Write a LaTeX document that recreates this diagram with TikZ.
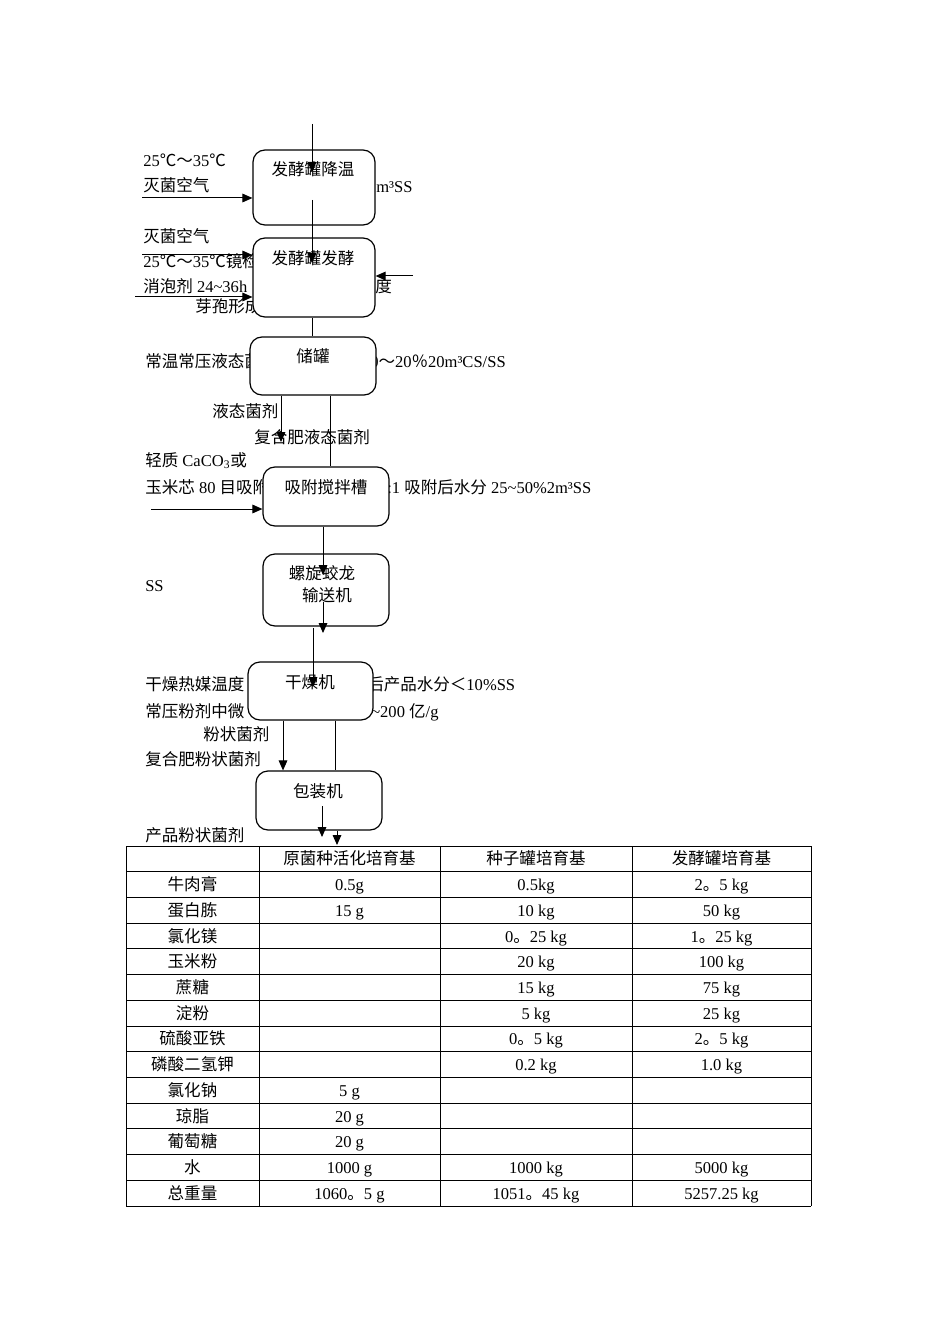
\documentclass[tikz,border=0pt]{standalone}
\usepackage{fontspec}
\setmainfont{Liberation Serif}
\newfontfamily\cjkfont{Noto Sans CJK SC}
\usetikzlibrary{arrows.meta,fit}
% automatic switch to the CJK font for CJK characters
\XeTeXinterchartokenstate=1
\newXeTeXintercharclass\CJKcls
\makeatletter
\def\setcjkrange#1#2{\count@=#1\relax\loop\XeTeXcharclass\count@=\CJKcls\ifnum\count@<#2\advance\count@ by 1\repeat}
\makeatother
\setcjkrange{"4E00}{"9FFF}
\setcjkrange{"3000}{"303F}
\setcjkrange{"FF00}{"FFEF}
\XeTeXcharclass"2103=\CJKcls
\XeTeXinterchartoks 0 \CJKcls = {\begingroup\cjkfont}
\XeTeXinterchartoks 4095 \CJKcls = {\begingroup\cjkfont}
\XeTeXinterchartoks \CJKcls 0 = {\endgroup}
\XeTeXinterchartoks \CJKcls 4095 = {\endgroup}
\begin{document}
\begin{tikzpicture}[x=0.75pt,y=-0.75pt,
  every node/.style={font=\fontsize{12.4}{14}\selectfont, inner sep=0pt},
  lbl/.style={anchor=base west},
  ctr/.style={anchor=base},
  box/.style={draw, line width=0.9pt, rounded corners=9pt, fill=white, inner sep=0pt},
  arr/.style={line width=0.75pt, -{Triangle[length=7.5pt,width=6.5pt]}},
  ln/.style={line width=0.75pt},
  tabline/.style={line width=0.6pt}]
\useasboundingbox[fill=white] (0,0) rectangle (950,1344);

% ---- side texts (drawn first, boxes cover parts of them)
\node[lbl] (t1) at (143,167) {25℃～35℃};
\node[lbl] (t2) at (143,192) {灭菌空气};
\node[lbl] (t3) at (376,193) {m³SS};
\node[lbl] (t4) at (143,243) {灭菌空气};
\node[lbl] (t5) at (143,268) {25℃～35℃镜检};
\node[lbl] (t6) at (143,292) {消泡剂 24\textasciitilde 36h};
\node[lbl] (t7) at (375,292) {度};
\node[lbl] (t8) at (195,313) {芽孢形成};
\node[lbl] (t9) at (145,367) {常温常压液态菌};
\node[lbl] (t10) at (370,367) {0～20％20m³CS/SS};
\node[lbl] (t11) at (212,417) {液态菌剂};
\node[lbl] (t12) at (254,443) {复合肥液态菌剂};
\node[lbl] (t13) at (145,466) {轻质 CaCO\textsubscript{3}或};
\node[lbl] (t14) at (145,493) {玉米芯 80 目吸附};
\node[lbl] (t15) at (387,493) {:1 吸附后水分 25\textasciitilde 50\%2m³SS};
\node[lbl] (t16) at (145,591) {SS};
\node[lbl] (t17) at (145,690) {干燥热媒温度};
\node[lbl] (t18) at (367,690) {后产品水分＜10\%SS};
\node[lbl] (t19) at (145,717) {常压粉剂中微};
\node[lbl] (t20) at (371,717) {\textasciitilde 200 亿/g};
\node[lbl] (t21) at (203,740) {粉状菌剂};
\node[lbl] (t22) at (145,765) {复合肥粉状菌剂};
\node[lbl] (t23) at (145,841) {产品粉状菌剂};

% ---- process boxes
\node[box, fit={(253,150)(375,225)}] (b1) {};
\node[box, fit={(253,238)(375,317)}] (b2) {};
\node[box, fit={(250,337)(376,395)}] (b3) {};
\node[box, fit={(263,467)(389,526)}] (b4) {};
\node[box, fit={(263,554)(389,626)}] (b5) {};
\node[box, fit={(248,662)(373,720)}] (b6) {};
\node[box, fit={(256,771)(382,830)}] (b7) {};

\node[ctr] (l1) at (313,176) {发酵罐降温};
\node[ctr] (l2) at (313,265) {发酵罐发酵};
\node[ctr] (l3) at (313,362) {储罐};
\node[ctr] (l4) at (326,493) {吸附搅拌槽};
\node[ctr] (l5a) at (322,579) {螺旋蛟龙};
\node[ctr] (l5b) at (327,601) {输送机};
\node[ctr] (l6) at (310,688) {干燥机};
\node[ctr] (l7) at (318,797) {包装机};

% ---- connectors
\coordinate (c1s) at (312,124); \coordinate (c1e) at (312,172);
\draw[arr] (c1s) -- (c1e);
\coordinate (c2s) at (312,200); \coordinate (c2e) at (312,263);
\draw[arr] (c2s) -- (c2e);
\coordinate (c3s) at (142,198);
\draw[arr] (c3s) -- (c3s -| b1.west);
\coordinate (c4s) at (142,255);
\draw[arr] (c4s) -- (c4s -| b2.west);
\coordinate (c5s) at (135,297);
\draw[arr] (c5s) -- (c5s -| b2.west);
\coordinate (c6s) at (413,276);
\draw[arr] (c6s) -- (c6s -| b2.east);
\coordinate (c7) at (312,0);
\draw[ln] (b2.south -| c7) -- (b3.north -| c7);
\coordinate (c8e) at (281,442);
\draw[arr] (b3.south -| c8e) -- (c8e);
\coordinate (c9) at (330,0);
\draw[ln] (b3.south -| c9) -- (b4.north -| c9);
\coordinate (c10s) at (151,509);
\draw[arr] (c10s) -- (c10s -| b4.west);
\coordinate (c11e) at (323,575);
\draw[arr] (b4.south -| c11e) -- (c11e);
\coordinate (c12s) at (323,602); \coordinate (c12e) at (323,633);
\draw[arr] (c12s) -- (c12e);
\coordinate (c13s) at (313,628); \coordinate (c13e) at (313,687);
\draw[arr] (c13s) -- (c13e);
\coordinate (c14) at (283,0);
\draw[arr] (b6.south -| c14) -- (b7.north -| c14);
\coordinate (c15) at (335,0);
\draw[ln] (b6.south -| c15) -- (b7.north -| c15);
\coordinate (c16s) at (322,806); \coordinate (c16e) at (322,837);
\draw[arr] (c16s) -- (c16e);
\coordinate (c17e) at (337,845);
\draw[arr] (b7.south -| c17e) -- (c17e);

% ---- table
\foreach \i in {0,...,14} \draw[tabline] (126,{846+25.714*\i}) -- (811,{846+25.714*\i});
\foreach \xx in {126,259,440,632,811} \draw[tabline] (\xx,846) -- (\xx,1206);
\foreach \i/\a/\b/\c/\d in {
  0//原菌种活化培育基/种子罐培育基/发酵罐培育基,
  1/牛肉膏/0.5g/0.5kg/2。5 kg,
  2/蛋白胨/15 g/10 kg/50 kg,
  3/氯化镁//0。25 kg/1。25 kg,
  4/玉米粉//20 kg/100 kg,
  5/蔗糖//15 kg/75 kg,
  6/淀粉//5 kg/25 kg,
  7/硫酸亚铁//0。5 kg/2。5 kg,
  8/磷酸二氢钾//0.2 kg/1.0 kg,
  9/氯化钠/5 g//,
  10/琼脂/20 g//,
  11/葡萄糖/20 g//,
  12/水/1000 g/1000 kg/5000 kg,
  13/总重量/1060。5 g/1051。45 kg/5257.25 kg}{
  \node[ctr] (r\i c0) at (192.5,{846+25.714*(\i+0.5)+6}) {\a};
  \node[ctr] (r\i c1) at (349.5,{846+25.714*(\i+0.5)+6}) {\b};
  \node[ctr] (r\i c2) at (536,{846+25.714*(\i+0.5)+6}) {\c};
  \node[ctr] (r\i c3) at (721.5,{846+25.714*(\i+0.5)+6}) {\d};
}
\end{tikzpicture}
\end{document}
